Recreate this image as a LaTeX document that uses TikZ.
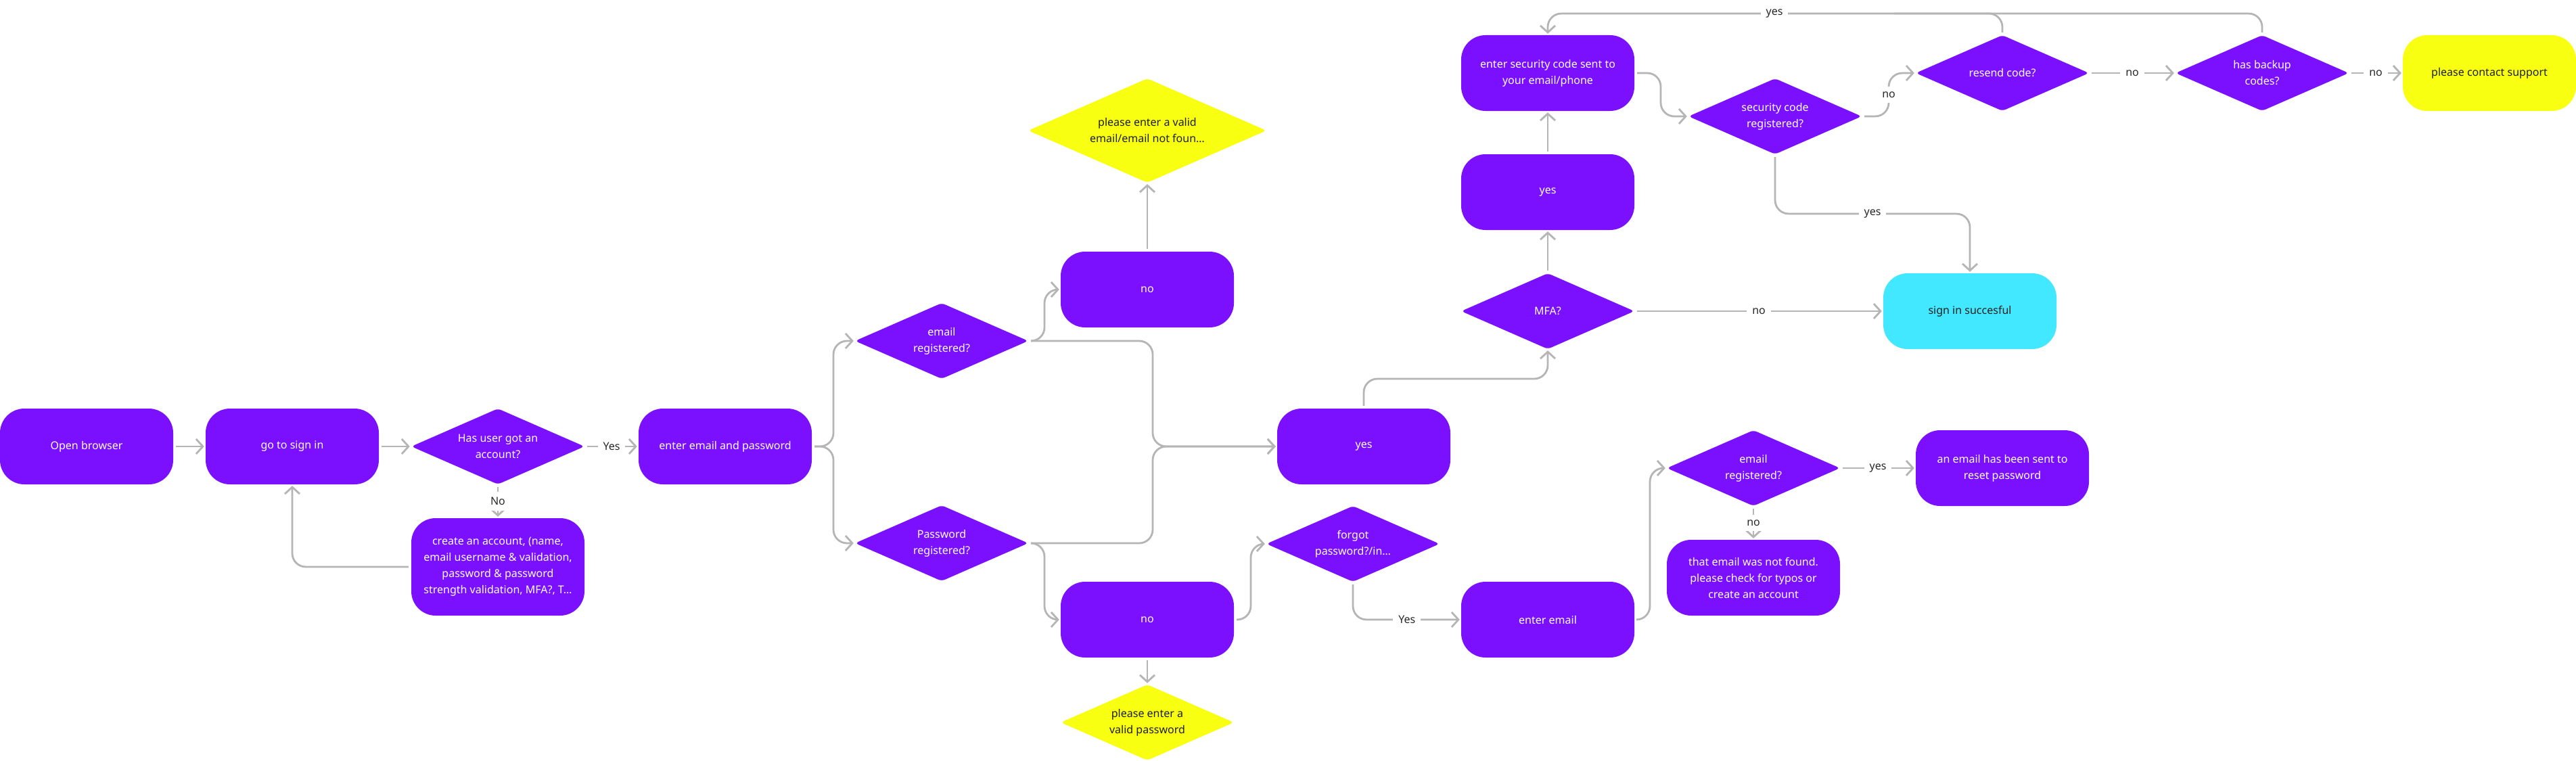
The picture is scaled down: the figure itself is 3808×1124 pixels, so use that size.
\documentclass[tikz,border=0pt]{standalone}
\usepackage{fontspec}
\setmainfont{Noto Sans}
\usetikzlibrary{shapes.geometric,arrows.meta}
\definecolor{vio}{RGB}{122,16,255}
\definecolor{yel}{RGB}{249,255,16}
\definecolor{cya}{RGB}{66,232,255}
\definecolor{linec}{RGB}{181,181,181}
\definecolor{labc}{RGB}{40,40,40}
\definecolor{darktxt}{RGB}{30,30,30}
\newcommand{\fsz}{\fontsize{16}{24}\selectfont}
\tikzset{
  proc/.style={rectangle, rounded corners=36pt, fill=vio, text=white, minimum width=256pt, minimum height=112pt, inner sep=0pt, align=center, font=\fsz},
  dec/.style={diamond, aspect=2.3, rounded corners=5pt, fill=vio, text=white, minimum width=256pt, minimum height=112pt, inner sep=0pt, align=center, font=\fsz},
  ydec/.style={dec, fill=yel, text=darktxt},
  lab/.style={fill=white, text=labc, inner sep=8pt, font=\fsz, rounded corners=0pt},
  conn/.style={draw=linec, line width=2.8pt, rounded corners=20pt, -{Straight Barb[length=10pt,width=22pt]}, shorten >=2pt, shorten <=4pt},
  plain/.style={draw=linec, line width=2.8pt, rounded corners=20pt, shorten <=4pt}
}
\begin{document}
\begin{tikzpicture}[x=1pt,y=-1pt]
\useasboundingbox[fill=white] (0,0) rectangle (3808,1124);
% nodes
\node[proc] (ob) at (128,660) {Open browser};
\node[proc] (gsi) at (432,660) {go to sign in};
\node[dec] (hua) at (736,660) {Has user got an\\account?};
\node[proc, minimum height=144pt] (ca) at (736,838) {create an account, (name,\\email username \& validation,\\password \& password\\strength validation, MFA?, T…};
\node[proc] (eep) at (1072,660) {enter email and password};
\node[dec] (er) at (1392,504) {email\\registered?};
\node[dec] (pr) at (1392,803) {Password\\registered?};
\node[proc] (no1) at (1696,428) {no};
\node[ydec, minimum width=352pt, minimum height=154pt] (ye1) at (1696,193) {please enter a valid\\email/email not foun…};
\node[proc] (no2) at (1696,916) {no};
\node[ydec] (ye2) at (1696,1068) {please enter a\\valid password};
\node[proc] (yes1) at (2016,660) {yes};
\node[dec] (fp) at (2000,804) {forgot\\password?/in…};
\node[proc] (ee) at (2288,916) {enter email};
\node[dec] (mfa) at (2288,460) {MFA?};
\node[proc] (yes2) at (2288,284) {yes};
\node[proc] (sec) at (2288,108) {enter security code sent to\\your email/phone};
\node[proc, fill=cya, text=darktxt] (sis) at (2912,460) {sign in succesful};
\node[dec] (scr) at (2624,172) {security code\\registered?};
\node[dec] (rc) at (2960,108) {resend code?};
\node[dec] (hb) at (3344,108) {has backup\\codes?};
\node[proc, fill=yel, text=darktxt] (cs) at (3680,108) {please contact support};
\node[dec] (er2) at (2592,692) {email\\registered?};
\node[proc] (sent) at (2960,692) {an email has been sent to\\reset password};
\node[proc] (nf) at (2592,854) {that email was not found.\\please check for typos or\\create an account};
% connectors
\coordinate (b1) at (1232,660);
\draw[conn] (ob.east) -- (gsi.west);
\draw[conn] (gsi.east) -- (hua.west);
\draw[conn] (hua.east) -- node[lab]{Yes} (eep.west);
\draw[conn] (hua.south) -- node[lab]{No} (ca.north);
\draw[conn] (ca.west) -| (gsi.south);
\draw[conn] (eep.east) -- (b1) |- (er.west);
\draw[conn] (eep.east) -- (b1) |- (pr.west);
\draw[conn] (er.east) -- (1544,504) |- (no1.west);
\draw[conn] (er.east) -- (1704,504) |- (yes1.west);
\draw[conn] (pr.east) -- (1704,803) |- (yes1.west);
\draw[conn] (pr.east) -- (1544,803) |- (no2.west);
\draw[conn] (no1.north) -- (ye1.south);
\draw[conn] (no2.south) -- (ye2.north);
\draw[conn] (no2.east) -- (1849,916) |- (fp.west);
\draw[conn] (fp.south) |- node[lab,pos=0.75]{Yes} (ee.west);
\draw[conn] (yes1.north) -- (2016,560) -| (mfa.south);
\draw[conn] (mfa.north) -- (yes2.south);
\draw[conn] (yes2.north) -- (sec.south);
\draw[conn] (mfa.east) -- node[lab]{no} (sis.west);
\draw[conn] (sec.east) -- (2455,108) |- (scr.west);
\draw[conn] (scr.south) -- (2624,316) -| node[lab,pos=0.25]{yes} (sis.north);
\draw[conn] (scr.east) -- (2792,172) -- node[lab]{no} (2792,108) -- (rc.west);
\draw[conn] (rc.east) -- node[lab]{no} (hb.west);
\draw[conn] (hb.east) -- node[lab]{no} (cs.west);
\draw[plain] (hb.north) -- (3344,20) -- (2800,20);
\draw[conn] (rc.north) -- (2960,20) -- (2288,20) -- (sec.north);
\node[lab] (ylab) at (2623,20) {yes};
\draw[conn] (ee.east) -- (2439,916) |- (er2.west);
\draw[conn] (er2.east) -- node[lab]{yes} (sent.west);
\draw[conn] (er2.south) -- node[lab]{no} (nf.north);
\end{tikzpicture}
\end{document}
